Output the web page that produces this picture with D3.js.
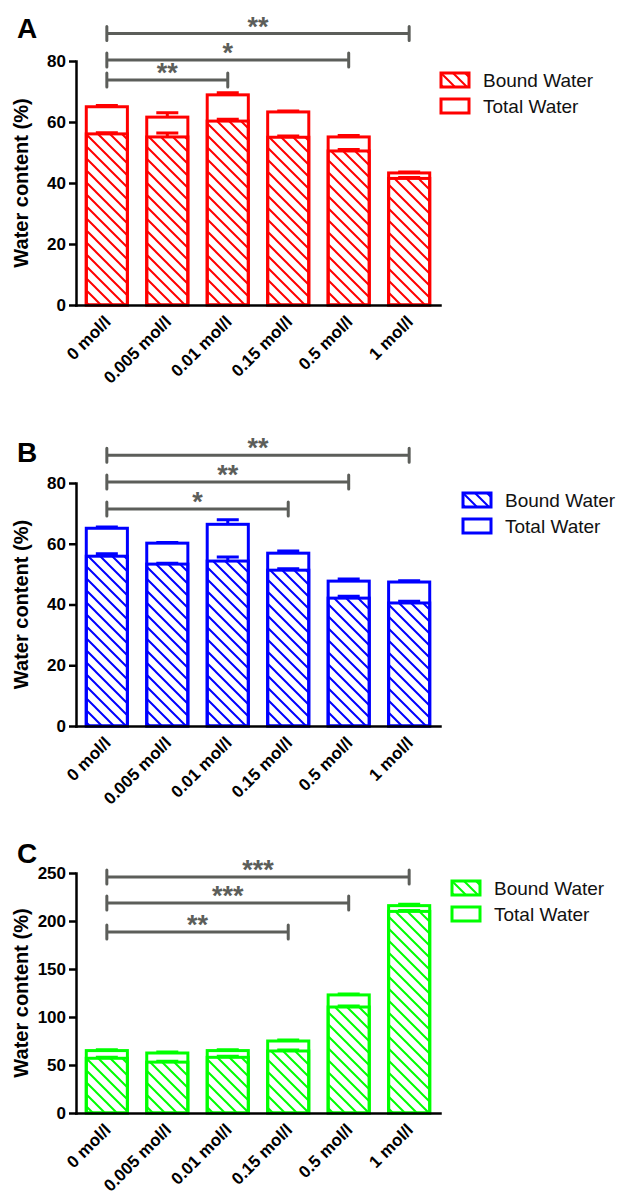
<!DOCTYPE html>
<html lang="en">
<head>
<meta charset="UTF-8">
<title>Water content</title>
<script src="https://d3js.org/d3.v7.min.js"></script>
<style>
  body { margin: 0; background: #fff; }
  svg { display: block; font-family: "Liberation Sans", Arial, sans-serif; }
  .axis path, .axis line { stroke: #000; stroke-width: 2.5px; }
  .axis text { font-weight: bold; fill: #000; }
  .ylabel { font-size: 20px; font-weight: bold; }
  .panel-letter { font-size: 28px; font-weight: bold; }
  .legend text { font-size: 19px; fill: #111; }
  .star { font-size: 27px; font-weight: bold; fill: #5c5e5a; }
</style>
</head>
<body>
<svg width="622" height="1195"></svg>
<script>
// categories and series
const categories = ["0 mol/l", "0.005 mol/l", "0.01 mol/l", "0.15 mol/l", "0.5 mol/l", "1 mol/l"];
const seriesNames = ["Bound Water", "Total Water"];

// panel A (red)
const totalA    = [65.0, 61.6, 68.9, 63.3, 55.1, 43.3];
const totalErrA = [0.4, 1.4, 0.7, 0.3, 0.5, 0.3];
const boundA    = [56.1, 55.1, 60.3, 55.0, 50.5, 41.5];
const boundErrA = [0.4, 1.3, 0.6, 0.4, 0.5, 0.3];

// panel B (blue)
const totalB    = [65.1, 60.2, 66.4, 56.9, 47.7, 47.4];
const totalErrB = [0.4, 0.2, 1.5, 0.7, 0.7, 0.4];
const boundB    = [55.9, 53.3, 54.3, 51.3, 42.1, 40.5];
const boundErrB = [0.8, 0.3, 1.3, 0.5, 0.6, 0.6];

// panel C (green)
const totalC    = [65, 62.5, 65, 75, 123, 216];
const totalErrC = [1, 1, 1, 1, 1, 1.5];
const boundC    = [57, 53, 58, 64.6, 110.4, 210];
const boundErrC = [1, 1, 1, 1, 1, 1];

// tick labels
const yTicksAB = [0, 20, 40, 60, 80];
const yTicksC  = [0, 50, 100, 150, 200, 250];

// significance brackets: [to category, level, stars] (all start at "0 mol/l")
const sigA = [["1 mol/l", 89, "**"], ["0.5 mol/l", 80.3, "*"], ["0.01 mol/l", 73.8, "**"]];
const sigB = [["1 mol/l", 89.1, "**"], ["0.5 mol/l", 80.3, "**"], ["0.15 mol/l", 71.4, "*"]];
const sigC = [["1 mol/l", 245.8, "***"], ["0.5 mol/l", 218.8, "***"], ["0.15 mol/l", 188.5, "**"]];

const panels = [
  { letter: "A", color: "#ff0000", total: totalA, totalErr: totalErrA, bound: boundA, boundErr: boundErrA,
    ticks: yTicksAB, sig: sigA, bottom: 305, top: 61, letterY: 38, legendX: 441, legendY: 73 },
  { letter: "B", color: "#0000ff", total: totalB, totalErr: totalErrB, bound: boundB, boundErr: boundErrB,
    ticks: yTicksAB, sig: sigB, bottom: 726, top: 483, letterY: 462, legendX: 463, legendY: 493 },
  { letter: "C", color: "#00ff00", total: totalC, totalErr: totalErrC, bound: boundC, boundErr: boundErrC,
    ticks: yTicksC, sig: sigC, bottom: 1113, top: 873, letterY: 863, legendX: 452, legendY: 881 }
];

const svg = d3.select("svg");
const defs = svg.append("defs");

const axisX = 76;
const x = d3.scaleBand()
  .domain(categories)
  .range([axisX, 440])
  .paddingInner(0.32)
  .paddingOuter(0.17);

function drawPanel(p) {
  const y = d3.scaleLinear()
    .domain([0, d3.max(p.ticks)])
    .range([p.bottom, p.top]);

  // hatch pattern for bound water
  const pid = "hatch-" + p.letter;
  defs.append("pattern")
    .attr("id", pid)
    .attr("patternUnits", "userSpaceOnUse")
    .attr("width", 12).attr("height", 12)
    .append("path")
    .attr("d", "M-3,9 L3,15 M0,0 L12,12 M9,-3 L15,3")
    .attr("stroke", p.color)
    .attr("stroke-width", 2);

  const g = svg.append("g");

  // total water bars
  g.selectAll(".total").data(p.total).enter().append("rect")
    .attr("class", "total")
    .attr("x", (d, i) => x(categories[i]))
    .attr("y", d => y(d))
    .attr("width", x.bandwidth())
    .attr("height", d => y(0) - y(d))
    .attr("fill", "#fff")
    .attr("stroke", p.color)
    .attr("stroke-width", 3);

  // bound water bars
  g.selectAll(".bound").data(p.bound).enter().append("rect")
    .attr("class", "bound")
    .attr("x", (d, i) => x(categories[i]))
    .attr("y", d => y(d))
    .attr("width", x.bandwidth())
    .attr("height", d => y(0) - y(d))
    .attr("fill", `url(#${pid})`)
    .attr("stroke", p.color)
    .attr("stroke-width", 3);

  // error bars (upper half)
  const errs = [];
  p.total.forEach((v, i) => errs.push({ i, v, e: p.totalErr[i] }));
  p.bound.forEach((v, i) => errs.push({ i, v, e: p.boundErr[i] }));
  const cx = i => x(categories[i]) + x.bandwidth() / 2;
  g.selectAll(".err").data(errs).enter().append("path")
    .attr("class", "err")
    .attr("d", d => `M${cx(d.i)},${y(d.v)}V${y(d.v + d.e)}M${cx(d.i) - 11},${y(d.v + d.e)}H${cx(d.i) + 11}`)
    .attr("fill", "none")
    .attr("stroke", p.color)
    .attr("stroke-width", 3);

  // axes
  g.append("g")
    .attr("class", "axis")
    .attr("transform", `translate(0,${p.bottom})`)
    .call(d3.axisBottom(x).tickSize(0).tickSizeOuter(0))
    .selectAll(".tick text")
    .attr("x", 0).attr("y", 0).attr("dy", 0)
    .attr("transform", "translate(5,18) rotate(-45)")
    .style("text-anchor", "end")
    .style("font-size", "17px");

  g.append("g")
    .attr("class", "axis")
    .attr("transform", `translate(${axisX},0)`)
    .call(d3.axisLeft(y).tickValues(p.ticks).tickSize(7).tickSizeOuter(0))
    .selectAll(".tick text")
    .style("font-size", "17px");

  g.selectAll(".axis .domain").attr("stroke-linecap", "square");

  // y label
  g.append("text")
    .attr("class", "ylabel")
    .attr("transform", `translate(28,${(p.top + p.bottom) / 2}) rotate(-90)`)
    .style("text-anchor", "middle")
    .text("Water content (%)");

  // panel letter
  g.append("text")
    .attr("class", "panel-letter")
    .attr("x", 17).attr("y", p.letterY)
    .text(p.letter);

  // significance brackets
  const x0 = cx(0);
  p.sig.forEach(([to, level, stars]) => {
    const x1 = cx(categories.indexOf(to));
    const yy = y(level);
    g.append("path")
      .attr("d", `M${x0},${yy - 7}V${yy + 7}M${x0},${yy}H${x1}M${x1},${yy - 7}V${yy + 7}`)
      .attr("fill", "none")
      .attr("stroke", "#5c5e5a")
      .attr("stroke-width", 3)
      .attr("stroke-linecap", "round");
    g.append("text")
      .attr("class", "star")
      .attr("x", (x0 + x1) / 2)
      .attr("y", yy + 2)
      .style("text-anchor", "middle")
      .text(stars);
  });

  // legend
  const leg = g.append("g").attr("class", "legend")
    .attr("transform", `translate(${p.legendX},${p.legendY})`);
  seriesNames.forEach((name, i) => {
    leg.append("rect")
      .attr("x", 0).attr("y", i * 26)
      .attr("width", 28).attr("height", 14)
      .attr("fill", i === 0 ? `url(#${pid})` : "#fff")
      .attr("stroke", p.color)
      .attr("stroke-width", 3);
    leg.append("text")
      .attr("x", 42).attr("y", i * 26 + 14)
      .text(name);
  });
}

panels.forEach(drawPanel);
</script>
</body>
</html>
